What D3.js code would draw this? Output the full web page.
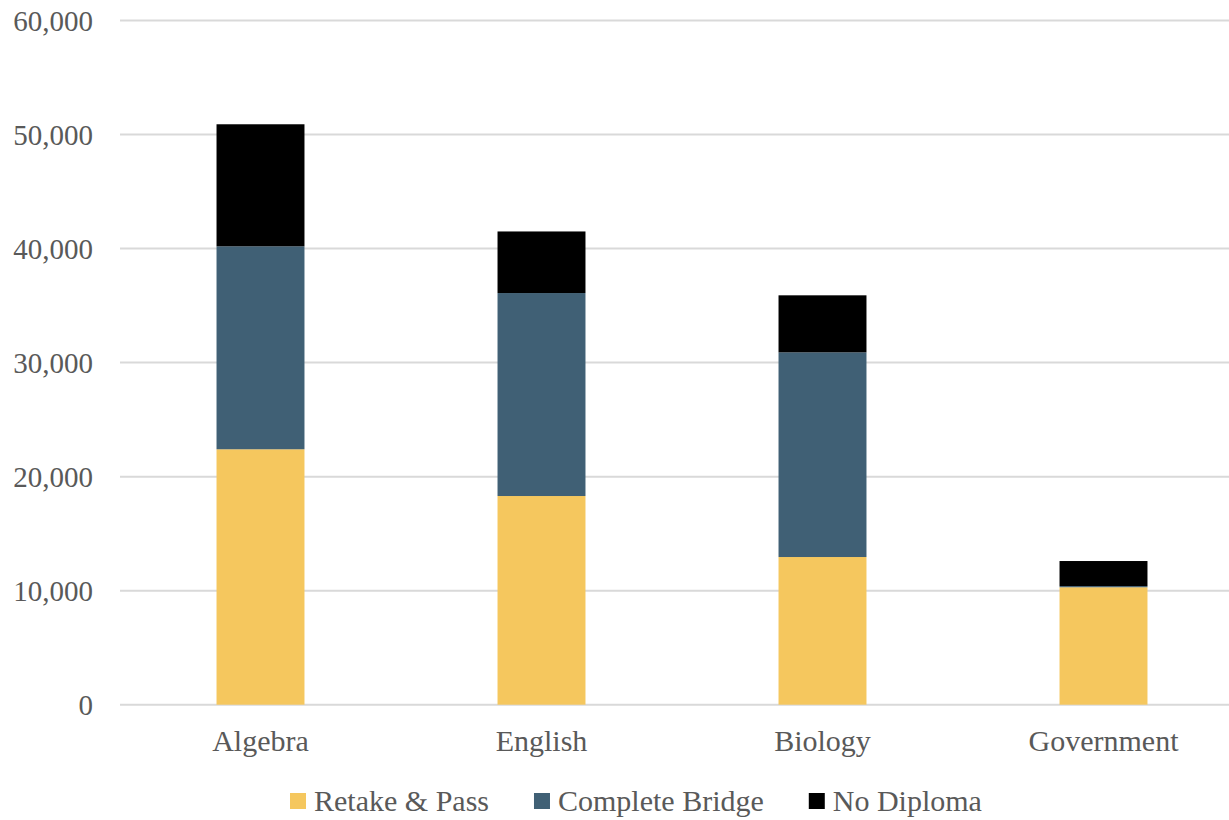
<!DOCTYPE html>
<html><head><meta charset="utf-8">
<script src="https://cdnjs.cloudflare.com/ajax/libs/d3/7.8.5/d3.min.js"></script>
<style>
html,body{margin:0;padding:0;background:#fff;}
</style></head>
<body><svg id="chart" width="1229" height="820"></svg>
<script>
const categories = ["Algebra","English","Biology","Government"];
const seriesNames = ["Retake & Pass","Complete Bridge","No Diploma"];
const retakePass = [22400, 18300, 12950, 10300];
const completeBridge = [17800, 17800, 17950, 100];
const noDiploma = [10700, 5400, 5000, 2200];
const yTicks = [0,10000,20000,30000,40000,50000,60000];
const colors = ["#F5C75E","#406075","#000000"];

const FONT = "'Liberation Serif', 'DejaVu Serif', serif";
const svg = d3.select("#chart");
const W = 1229, H = 820;
const plot = {left:120, right:1244, top:20.5, bottom:704.7};

const rows = categories.map((c,i)=>({cat:c, "Retake & Pass":retakePass[i], "Complete Bridge":completeBridge[i], "No Diploma":noDiploma[i]}));
const stacked = d3.stack().keys(seriesNames)(rows);

const x = d3.scaleBand().domain(categories).range([plot.left, plot.right]).paddingInner(0.687).paddingOuter(0.3435);
const y = d3.scaleLinear().domain([0,60000]).range([plot.bottom, plot.top]);

svg.append("g").selectAll("line").data(yTicks).join("line")
  .attr("x1", plot.left).attr("x2", W)
  .attr("y1", d=>y(d)).attr("y2", d=>y(d))
  .attr("stroke","#D9D9D9").attr("stroke-width",2);

const fmt = d3.format(",");
svg.append("g").selectAll("text").data(yTicks).join("text")
  .attr("x", 93).attr("y", d=>y(d)).attr("dy","0.35em")
  .attr("text-anchor","end").attr("font-size",29)
  .attr("font-family",FONT).attr("fill","#595959")
  .text(d=>fmt(d));

svg.append("g").selectAll("g").data(stacked).join("g")
  .attr("fill",(d,i)=>colors[i])
  .selectAll("rect").data(d=>d).join("rect")
  .attr("x", d=>x(d.data.cat)).attr("width", x.bandwidth())
  .attr("y", d=>y(d[1])).attr("height", d=>y(d[0])-y(d[1]));

svg.append("g").selectAll("text").data(categories).join("text")
  .attr("x", d=>x(d)+x.bandwidth()/2).attr("y", 751)
  .attr("text-anchor","middle").attr("font-size",30)
  .attr("font-family",FONT).attr("fill","#595959")
  .text(d=>d);

const lg = svg.append("g");
const items = lg.selectAll("g").data(seriesNames).join("g");
items.append("rect").attr("width",16).attr("height",16).attr("y",-18).attr("fill",(d,i)=>colors[i]);
items.append("text").attr("x",24).attr("y",0).attr("font-size",30)
  .attr("font-family",FONT).attr("fill","#595959").text(d=>d);
let widths = [];
items.each(function(){ widths.push(this.getBBox().width); });
const gap = 45;
let cx = 290;
items.attr("transform",(d,i)=>{ const t = `translate(${cx},${811})`; cx += widths[i]+gap; return t; });
</script></body></html>
